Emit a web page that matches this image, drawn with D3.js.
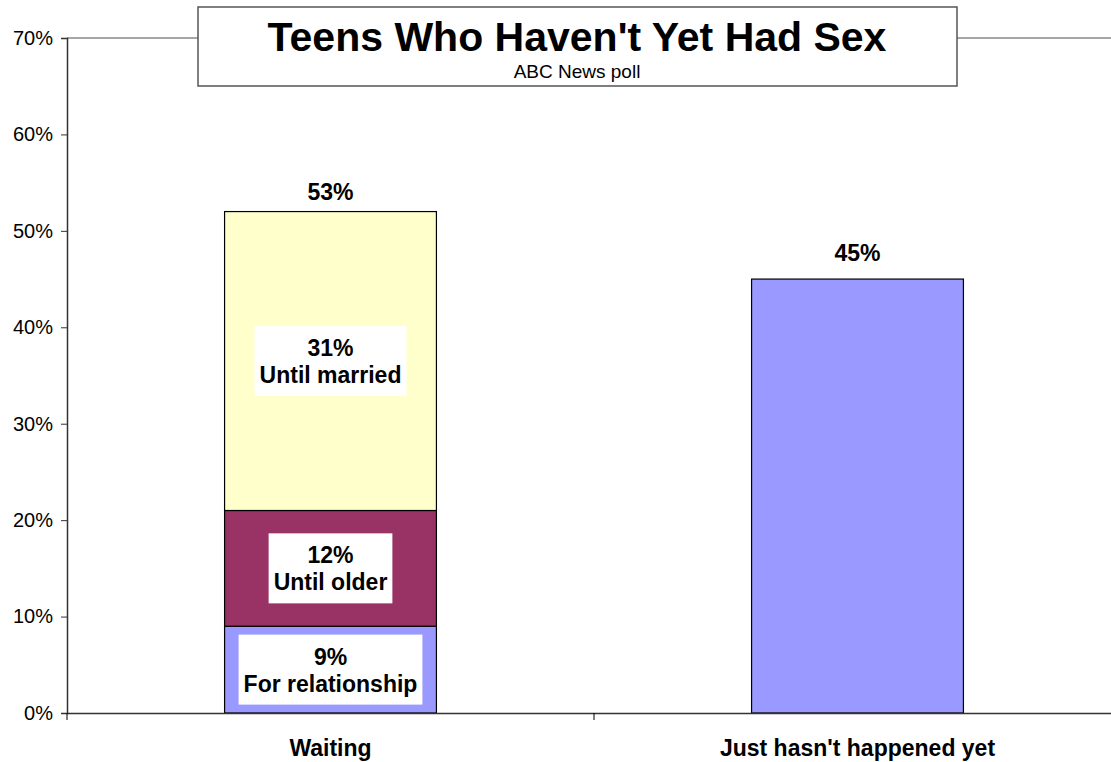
<!DOCTYPE html>
<html>
<head>
<meta charset="utf-8">
<script src="https://cdn.jsdelivr.net/npm/d3@7"></script>
<style>
  body { margin: 0; background: #fff; overflow: hidden; }
  text { font-family: "Liberation Sans", Arial, sans-serif; }
</style>
</head>
<body>
<div id="chart"></div>
<script>
// data
const categories = ["Waiting", "Just hasn't happened yet"];
const segmentNames = ["For relationship", "Until older", "Until married"];
const waitingValues = [9, 12, 31];
const otherValue = 45;
const totalLabels = ["53%", "45%"];
const yTicks = [0, 10, 20, 30, 40, 50, 60, 70];
const segColors = ["#9999FF", "#993366", "#FFFFCC"];

var width = 1111,
  height = 762,
  margin = { top: 38, left: 67, bottom: 49 },
  iwidth = 1054,
  iheight = height - margin.top - margin.bottom;

var svg = d3.select("#chart") // create the SVG
  .append("svg")
  .attr("width", width)
  .attr("height", height)
  .style("display", "block");

var g = svg.append("g")
  .attr("transform", `translate(${margin.left},${margin.top})`);

var y = d3.scaleLinear() // y scale
  .domain([0, 70])
  .range([iheight, 0]);

var x = d3.scaleBand() // x scale
  .domain(categories)
  .range([0, iwidth])
  .paddingInner(0)
  .paddingOuter(0);

var barW = x.bandwidth() * 0.402;

// top border of plot area
g.append("line")
  .attr("x1", 0).attr("x2", iwidth)
  .attr("y1", y(70)).attr("y2", y(70))
  .attr("stroke", "#888").attr("stroke-width", 1.5);

// stacked bar
var stack = [];
var acc = 0;
waitingValues.forEach((v, i) => {
  stack.push({ name: segmentNames[i], value: v, y0: acc, y1: acc + v, color: segColors[i] });
  acc += v;
});

var bx = x(categories[0]) + (x.bandwidth() - barW) / 2;

g.selectAll("rect.seg")
  .data(stack)
  .enter()
  .append("rect")
  .attr("class", "seg")
  .attr("x", bx)
  .attr("y", d => y(d.y1))
  .attr("width", barW)
  .attr("height", d => y(d.y0) - y(d.y1))
  .attr("fill", d => d.color)
  .attr("stroke", "#000")
  .attr("stroke-width", 1.2);

// second bar
g.append("rect")
  .attr("x", x(categories[1]) + (x.bandwidth() - barW) / 2)
  .attr("y", y(otherValue))
  .attr("width", barW)
  .attr("height", y(0) - y(otherValue))
  .attr("fill", segColors[0])
  .attr("stroke", "#000")
  .attr("stroke-width", 1.2);

// segment labels in white boxes
var fs = 23;
stack.forEach(d => {
  var cx = bx + barW / 2;
  var cy = (y(d.y0) + y(d.y1)) / 2;
  var lg = g.append("g");
  var t = lg.append("text")
    .attr("text-anchor", "middle")
    .attr("font-weight", "bold")
    .attr("font-size", fs + "px")
    .attr("fill", "#000");
  t.append("tspan").attr("x", cx).attr("y", cy - 5).text(d.value + "%");
  t.append("tspan").attr("x", cx).attr("y", cy + 22).text(d.name);
  var bb = t.node().getBBox();
  lg.insert("rect", "text")
    .attr("x", cx - bb.width / 2 - 5)
    .attr("y", cy - 35)
    .attr("width", bb.width + 10)
    .attr("height", 70)
    .attr("fill", "#fff");
});

// total labels
g.append("text")
  .attr("x", x(categories[0]) + x.bandwidth() / 2)
  .attr("y", y(53) - 2)
  .attr("text-anchor", "middle")
  .attr("font-weight", "bold")
  .attr("font-size", fs + "px")
  .text(totalLabels[0]);

g.append("text")
  .attr("x", x(categories[1]) + x.bandwidth() / 2)
  .attr("y", y(otherValue) - 18)
  .attr("text-anchor", "middle")
  .attr("font-weight", "bold")
  .attr("font-size", fs + "px")
  .text(totalLabels[1]);

// Y axis
var yAxis = g.append("g")
  .call(d3.axisLeft(y).tickValues(yTicks).tickFormat(d => d + "%").tickSize(6).tickPadding(8));
yAxis.select(".domain").attr("stroke", "#333").attr("stroke-width", 1.5);
yAxis.selectAll(".tick line").attr("stroke", "#333");
yAxis.selectAll("text")
  .attr("font-size", "20px")
  .attr("font-family", "Liberation Sans, Arial, sans-serif")
  .attr("fill", "#000");

// X axis
var xAxis = g.append("g")
  .attr("transform", `translate(0,${iheight})`)
  .call(d3.axisBottom(x).tickSize(0).tickPadding(27));
xAxis.select(".domain").attr("stroke", "#333").attr("stroke-width", 1.5);
xAxis.selectAll("text")
  .attr("font-size", fs + "px")
  .attr("font-weight", "bold")
  .attr("font-family", "Liberation Sans, Arial, sans-serif")
  .attr("fill", "#000");

// category divider ticks
xAxis.selectAll("line.div")
  .data([0, iwidth / 2])
  .enter()
  .append("line")
  .attr("class", "div")
  .attr("x1", d => d).attr("x2", d => d)
  .attr("y1", 0).attr("y2", 7)
  .attr("stroke", "#000");

// title box
var title = svg.append("g");
title.append("rect")
  .attr("x", 198).attr("y", 7)
  .attr("width", 759).attr("height", 79)
  .attr("fill", "#fff")
  .attr("stroke", "#555")
  .attr("stroke-width", 1.5);
title.append("text")
  .attr("x", 577).attr("y", 51)
  .attr("text-anchor", "middle")
  .attr("font-weight", "bold")
  .attr("font-size", "41px")
  .text("Teens Who Haven't Yet Had Sex");
title.append("text")
  .attr("x", 577).attr("y", 78)
  .attr("text-anchor", "middle")
  .attr("font-size", "19px")
  .text("ABC News poll");
</script>
</body>
</html>
